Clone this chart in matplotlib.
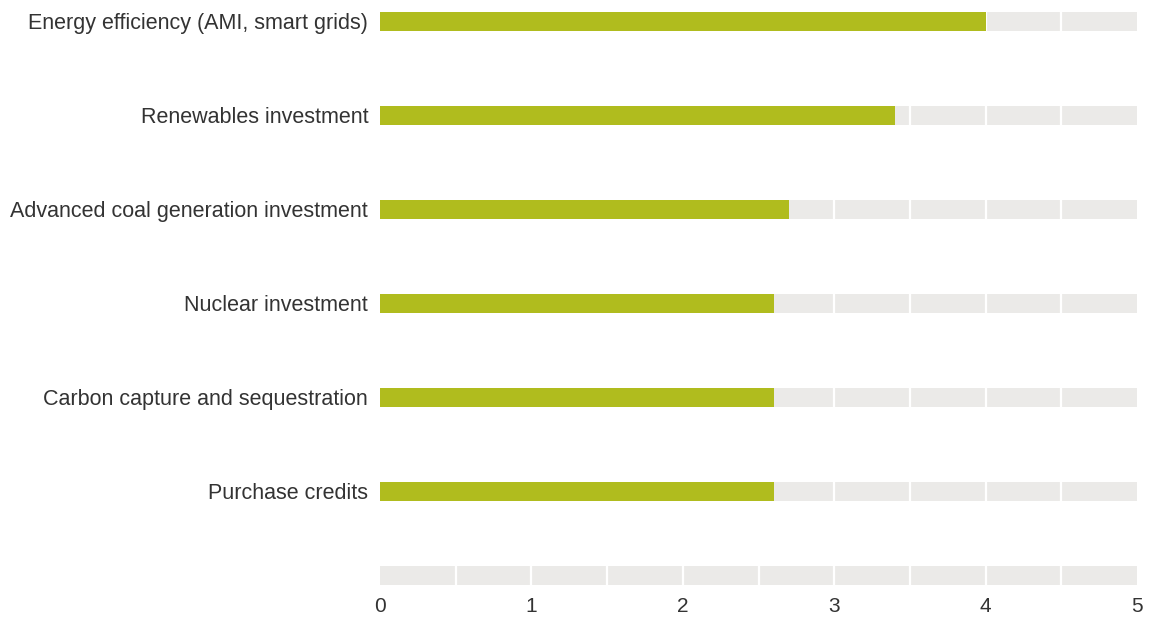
import numpy as np
import matplotlib.pyplot as plt

# Chart values
categories = [
    "Energy efficiency (AMI, smart grids)",
    "Renewables investment",
    "Advanced coal generation investment",
    "Nuclear investment",
    "Carbon capture and sequestration",
    "Purchase credits",
]
values = [4.0, 3.4, 2.7, 2.6, 2.6, 2.6]
x_ticks = [0, 1, 2, 3, 4, 5]

green = "#b0bc1e"
track = "#ebeae8"
text_col = "#333333"

plt.rcParams["font.family"] = ["Liberation Sans", "DejaVu Sans"]

fig = plt.figure(figsize=(11.49, 6.17), dpi=100)
ax = fig.add_axes([380 / 1149, 31.5 / 617, 757 / 1149, 574 / 617])

rows = np.arange(len(categories))
axis_row = 5.9  # empty track sitting just above the x tick labels
h = 0.202

ax.barh(list(rows) + [axis_row], [5] * (len(rows) + 1), height=h, color=track, zorder=1)
for g in np.arange(0.5, 5, 0.5):
    ax.axvline(g, color="white", lw=1.6, zorder=2)
ax.barh(rows, values, height=h, color=green, zorder=3)

ax.set_xlim(0, 5)
ax.set_ylim(axis_row + h / 2, -h / 2)
ax.set_yticks(rows)
ax.set_yticklabels(categories, fontsize=15.5, color=text_col)
ax.set_xticks(x_ticks)
ax.set_xticklabels([str(t) for t in x_ticks], fontsize=15, color=text_col)
ax.tick_params(length=0)
ax.tick_params(axis="y", pad=8.5)
ax.tick_params(axis="x", pad=8)
for s in ax.spines.values():
    s.set_visible(False)

fig.savefig("out.png", dpi=100)
